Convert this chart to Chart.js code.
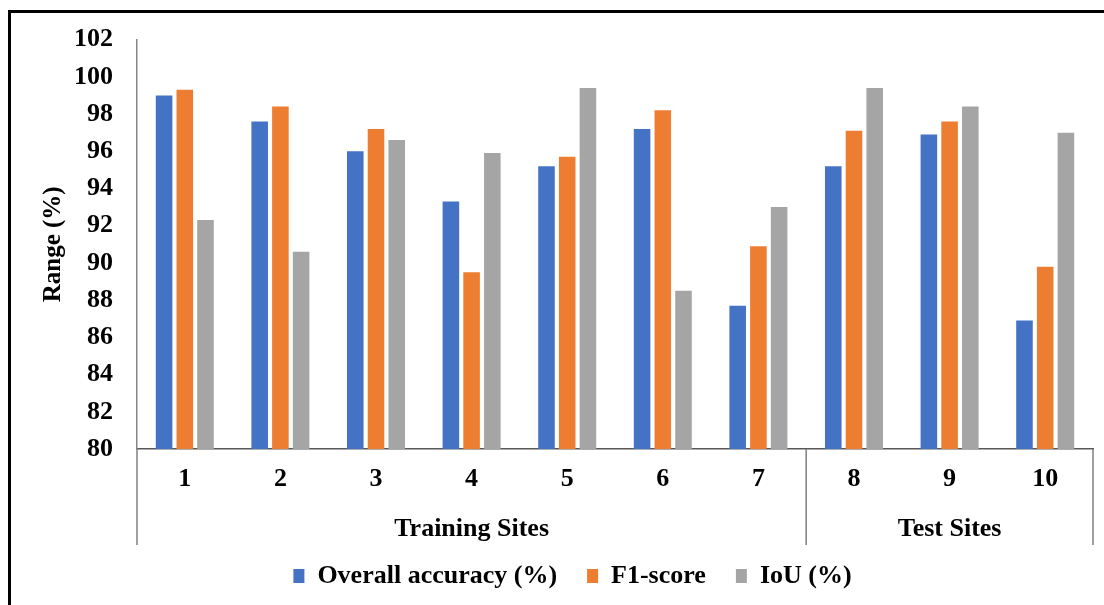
<!DOCTYPE html>
<html>
<head>
<meta charset="utf-8">
<script src="https://cdn.jsdelivr.net/npm/chart.js@4.4.1/dist/chart.umd.min.js"></script>
<style>
  body { margin: 0; background: #fff; }
  #marco { position: absolute; left: 8px; top: 10px; width: 1200px; height: 700px; border-left: 3px solid #000; border-top: 3px solid #000; }
  #grafico { position: absolute; left: 0; top: 0; }
</style>
</head>
<body>
<div id="marco"></div>
<canvas id="grafico" width="1104" height="605"></canvas>
<script>
// Datos
const sites = ['1', '2', '3', '4', '5', '6', '7', '8', '9', '10'];
const overallAccuracy = [99.0, 97.6, 96.0, 93.3, 95.2, 97.2, 87.7, 95.2, 96.9, 86.9];
const f1Score = [99.3, 98.4, 97.2, 89.5, 95.7, 98.2, 90.9, 97.1, 97.6, 89.8];
const iou = [92.3, 90.6, 96.6, 95.9, 99.4, 88.5, 93.0, 99.4, 98.4, 97.0];
const groupLabels = ['Training Sites', 'Test Sites'];
const groupSizes = [7, 3];
const yMin = 80;
const yMax = 102;
const yStep = 2;

const familia = '"Liberation Serif", "Times New Roman", serif';
const fuente = { family: familia, size: 26, weight: 'bold' };

// Etiquetas de grupo y separadores debajo del eje X
const groupPlugin = {
  id: 'groups',
  afterDraw(chart) {
    const ctx = chart.ctx;
    const x = chart.scales.x;
    const area = chart.chartArea;
    const step = x.getPixelForTick(1) - x.getPixelForTick(0);
    const edges = [area.left];
    let count = 0;
    groupSizes.forEach(n => {
      count += n;
      edges.push(x.getPixelForTick(count - 1) + step / 2);
    });

    ctx.save();
    ctx.strokeStyle = '#7f7f7f';
    ctx.lineWidth = 1.5;
    edges.forEach(px => {
      ctx.beginPath();
      ctx.moveTo(px, area.bottom);
      ctx.lineTo(px, area.bottom + 96);
      ctx.stroke();
    });
    ctx.font = 'bold 26px ' + familia;
    ctx.fillStyle = '#000';
    ctx.textAlign = 'center';
    ctx.textBaseline = 'alphabetic';
    groupLabels.forEach((label, i) => {
      ctx.fillText(label, (edges[i] + edges[i + 1]) / 2, area.bottom + 87);
    });
    ctx.restore();
  }
};

new Chart(document.getElementById('grafico'), {
  type: 'bar',
  data: {
    labels: sites,
    datasets: [
      { label: 'Overall accuracy (%)', data: overallAccuracy, backgroundColor: '#4472C4' },
      { label: 'F1-score', data: f1Score, backgroundColor: '#ED7D31' },
      { label: 'IoU (%)', data: iou, backgroundColor: '#A5A5A5' }
    ]
  },
  options: {
    responsive: false,
    animation: false,
    datasets: { bar: { barPercentage: 0.8, categoryPercentage: 0.65 } },
    layout: { padding: { left: 52, right: 11, top: 37, bottom: 6 } },
    plugins: {
      legend: {
        position: 'bottom',
        labels: { font: fuente, color: '#000', boxWidth: 11, boxHeight: 14, padding: 30 }
      },
      tooltip: { enabled: false }
    },
    scales: {
      x: {
        grid: { display: false, drawTicks: false },
        border: { color: '#595959', width: 1.5 },
        ticks: { font: fuente, color: '#000', padding: 15 },
        afterFit: s => { s.height = 84; }
      },
      y: {
        min: yMin,
        max: yMax,
        grid: { display: false, drawTicks: false },
        border: { color: '#868686', width: 1.5 },
        ticks: { stepSize: yStep, font: fuente, color: '#000', padding: 24 },
        title: {
          display: true,
          text: 'Range (%)',
          color: '#000',
          font: { family: familia, size: 25, weight: 'bold' },
          padding: { top: -13, bottom: 0 }
        },
        afterFit: s => { s.width = 85; }
      }
    }
  },
  plugins: [groupPlugin]
});
</script>
</body>
</html>
